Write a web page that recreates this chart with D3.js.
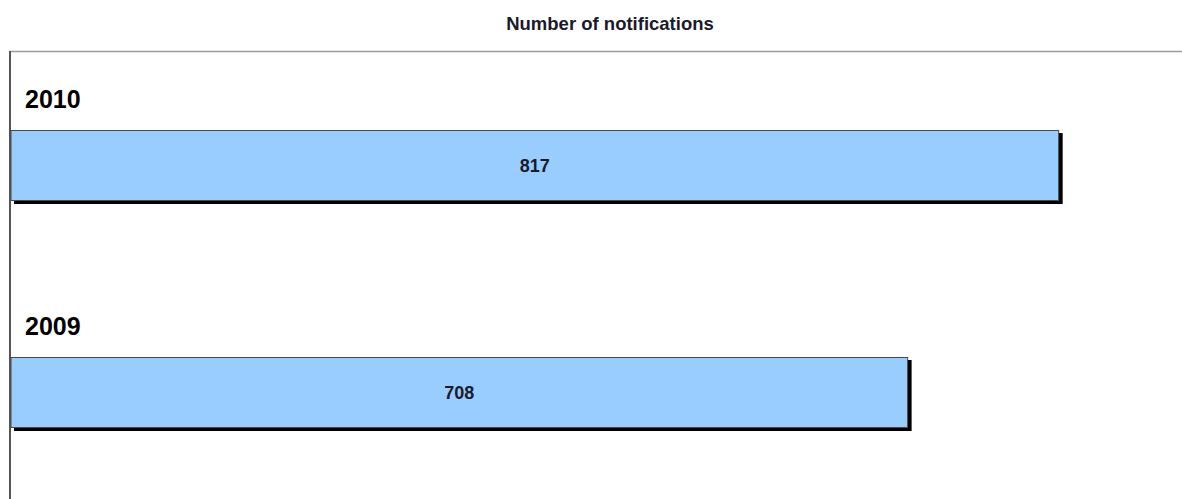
<!DOCTYPE html>
<html>
<head>
<meta charset="utf-8">
<script src="https://cdn.jsdelivr.net/npm/d3@7"></script>
<style>
  body { margin: 0; background: #fff; }
  text { font-family: Arial, "Liberation Sans", sans-serif; }
</style>
</head>
<body>
<div id="chart"></div>
<script>
// Data
var years = ['2010', '2009'];
var notifications = [817, 708];
var title = 'Number of notifications';

var width = 1182, height = 499;

var svg = d3.select('#chart').append('svg')
    .attr('width', width)
    .attr('height', height);

var data = years.map(function(y, i) { return {year: y, value: notifications[i]}; });

// X scale (plot area runs from the left axis to the right edge)
var x = d3.scaleLinear()
    .domain([61, 906])
    .range([11, width]);

// Y scale
var y = d3.scaleBand()
    .domain(years)
    .range([51, 506])
    .paddingInner(0.6916)
    .paddingOuter(0.348);

// Frame: top border and left axis
svg.append('line')
    .attr('x1', 10).attr('x2', width)
    .attr('y1', 51.5).attr('y2', 51.5)
    .style('stroke', '#9a9a9a')
    .style('stroke-width', 1.5);

svg.append('line')
    .attr('x1', 10).attr('x2', 10)
    .attr('y1', 51).attr('y2', height)
    .style('stroke', '#555')
    .style('stroke-width', 2);

// Title
svg.append('text')
    .attr('x', 610)
    .attr('y', 30)
    .attr('text-anchor', 'middle')
    .style('font-size', '18.5px')
    .style('font-weight', 'bold')
    .style('fill', '#1a1a2a')
    .text(title);

var bars = svg.selectAll('.bar')
    .data(data)
    .enter()
    .append('g')
    .attr('class', 'bar');

// shadow
bars.append('rect')
    .attr('x', function(d) { return x.range()[0] + 3; })
    .attr('y', function(d) { return y(d.year) + 3; })
    .attr('width', function(d) { return x(d.value) - x.range()[0] + 1; })
    .attr('height', y.bandwidth() + 1)
    .style('fill', '#000');

// bar
bars.append('rect')
    .attr('x', x.range()[0])
    .attr('y', function(d) { return y(d.year) + 0.5; })
    .attr('width', function(d) { return x(d.value) - x.range()[0]; })
    .attr('height', y.bandwidth())
    .style('fill', '#99ccff')
    .style('stroke', '#4a4a4a')
    .style('stroke-width', 1);

// year labels
bars.append('text')
    .attr('x', 25)
    .attr('y', function(d) { return y(d.year) - 22; })
    .style('font-size', '25px')
    .style('font-weight', 'bold')
    .style('fill', '#000')
    .text(function(d) { return d.year; });

// value labels
bars.append('text')
    .attr('x', function(d) { return (x.range()[0] + x(d.value)) / 2; })
    .attr('y', function(d) { return y(d.year) + y.bandwidth() / 2 + 7; })
    .attr('text-anchor', 'middle')
    .style('font-size', '18px')
    .style('font-weight', 'bold')
    .style('fill', '#1a1a2a')
    .text(function(d) { return d.value; });
</script>
</body>
</html>
